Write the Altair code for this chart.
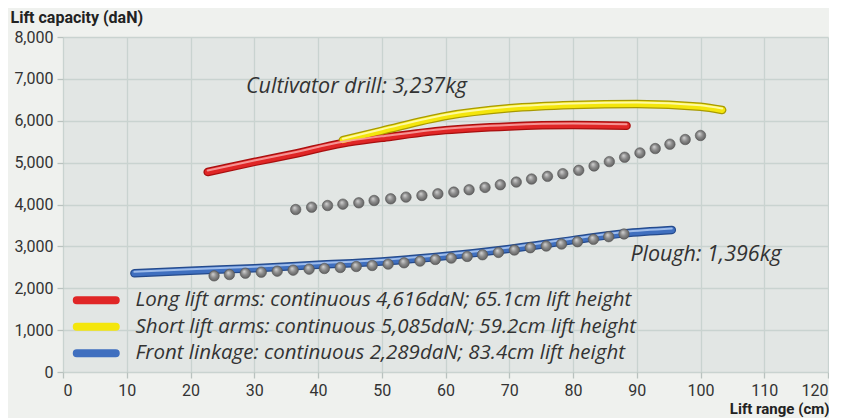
import altair as alt
import pandas as pd

# ---- data ----
series_names = [
    "Long lift arms: continuous 4,616daN; 65.1cm lift height",
    "Short lift arms: continuous 5,085daN; 59.2cm lift height",
    "Front linkage: continuous 2,289daN; 83.4cm lift height",
]
series_colors = ["#e02626", "#f4e60c", "#3f6fbf"]
series_dark = ["#a80f0f", "#a89a00", "#244a8c"]
series_light = ["#f7a0a0", "#fffcb0", "#a8c4ee"]

long_x = [22.7, 30, 36, 43.9, 50, 60, 70, 80, 88.4]
long_y = [4776, 5016, 5200, 5464, 5592, 5776, 5864, 5896, 5880]

short_x = [43.9, 50, 60, 70, 80, 90, 100, 103.4]
short_y = [5536, 5760, 6110, 6296, 6376, 6400, 6336, 6256]

front_x = [11.2, 20, 30, 40, 50, 60, 70, 80, 88, 95.5]
front_y = [2356, 2420, 2480, 2560, 2640, 2770, 2940, 3150, 3310, 3391]

cult_x = [36.5, 39.0, 41.5, 43.9, 46.4, 48.8, 51.4, 53.8, 56.3, 58.8, 61.3, 63.7,
          66.2, 68.6, 71.1, 73.5, 76.0, 78.4, 80.9, 83.3, 85.7, 88.1, 90.5, 92.9,
          95.2, 97.6, 100.0]
cult_y = [3880, 3936, 3976, 4008, 4040, 4096, 4136, 4176, 4216, 4256, 4296, 4352,
          4408, 4472, 4536, 4608, 4672, 4736, 4816, 4920, 5024, 5128, 5232, 5336,
          5440, 5552, 5648]

plough_x = [23.7, 26.1, 28.6, 31.1, 33.6, 36.1, 38.6, 41.0, 43.5, 46.0, 48.5, 51.0,
            53.5, 56.0, 58.4, 60.9, 63.4, 65.8, 68.3, 70.8, 73.3, 75.8, 78.2, 80.7,
            83.2, 85.6, 88.0]
plough_y = [2296, 2328, 2360, 2384, 2408, 2432, 2456, 2472, 2496, 2520, 2544, 2576,
            2608, 2648, 2688, 2720, 2760, 2800, 2856, 2912, 2968, 3008, 3056, 3112,
            3168, 3232, 3296]

note_text = ["Cultivator drill: 3,237kg", "Plough: 1,396kg"]
note_x = [28.7, 89.0]
note_y = [6806, 2794]

x_ticks = list(range(0, 121, 10))
y_ticks = list(range(0, 8001, 1000))

# ---- tables ----
lines_df = pd.concat([
    pd.DataFrame({"x": xs, "y": ys, "series": name, "order": range(len(xs))})
    for name, xs, ys in zip(series_names, [long_x, short_x, front_x], [long_y, short_y, front_y])
])
dots_df = pd.concat([
    pd.DataFrame({"x": cult_x, "y": cult_y, "set": "cultivator"}),
    pd.DataFrame({"x": plough_x, "y": plough_y, "set": "plough"}),
])
notes_df = pd.DataFrame({"x": note_x, "y": note_y, "text": note_text})

FONT = "Roboto"
IFONT = "Open Sans"
PW, PH = 765, 335

xscale = alt.Scale(domain=[0, 120], nice=False)
yscale = alt.Scale(domain=[0, 8000], nice=False)

X = alt.X("x:Q", scale=xscale,
          axis=alt.Axis(values=x_ticks, title="Lift range (cm)", titleAngle=0,
                        labelFlush=True,
                        titleAlign="right", titleAnchor="end", titleX=PW + 1, titleY=41,
                        titleBaseline="alphabetic", titleFontSize=15))
Y = alt.Y("y:Q", scale=yscale,
          axis=alt.Axis(values=y_ticks, format=",.0f", title="Lift capacity (daN)",
                        titleAngle=0, titleAlign="left", titleX=-53, titleY=-15,
                        titleBaseline="alphabetic", titleFontSize=16))

pill = "M-3,-0.3077H3A0.3077,0.3077 0 0 1 3,0.3077H-3A0.3077,0.3077 0 0 1 -3,-0.3077Z"

layers = []
for name, dark in zip(series_names, series_dark):
    layers.append(
        alt.Chart(lines_df).transform_filter(alt.datum.series == name)
        .mark_line(color=dark, strokeWidth=8.5, strokeCap="round", interpolate="monotone")
        .encode(x=X, y=Y, order="order:Q")
    )
layers.append(
    alt.Chart(lines_df).mark_line(strokeWidth=6, strokeCap="round", interpolate="monotone")
    .encode(
        x=X, y=Y, order="order:Q",
        color=alt.Color("series:N",
                        scale=alt.Scale(domain=series_names, range=series_colors),
                        legend=alt.Legend(title=None, orient="none", legendX=23, legendY=253,
                                          symbolType=pill, symbolSize=169,
                                          symbolStrokeWidth=4, symbolFillColor="transparent",
                                          labelFont=IFONT, labelFontSize=20.5,
                                          labelFontStyle="italic", labelColor="#333333",
                                          labelOffset=29, rowPadding=5.5, padding=0,
                                          labelLimit=700)),
    )
)
for name, light in zip(series_names, series_light):
    layers.append(
        alt.Chart(lines_df).transform_filter(alt.datum.series == name)
        .mark_line(color=light, strokeWidth=2, strokeCap="round", interpolate="monotone",
                   yOffset=-1.5, opacity=0.9)
        .encode(x=X, y=Y, order="order:Q")
    )

ball = {
    "gradient": "radial",
    "x1": 0.38, "y1": 0.32, "r1": 0.0,
    "x2": 0.5, "y2": 0.5, "r2": 0.55,
    "stops": [
        {"offset": 0.0, "color": "#d6d6d6"},
        {"offset": 0.5, "color": "#8c8c8c"},
        {"offset": 1.0, "color": "#5a5a5a"},
    ],
}
layers.append(
    alt.Chart(dots_df).mark_circle(size=110, fill=ball, opacity=1, stroke="#555555",
                                   strokeWidth=0.6)
    .encode(x=X, y=Y)
)
layers.append(
    alt.Chart(notes_df).mark_text(align="left", baseline="middle", font=IFONT, fontSize=21.5,
                                  fontStyle="italic", color="#333333")
    .encode(x=X, y=Y, text="text:N")
)

chart = alt.layer(*layers).properties(
    width=PW, height=PH,
    padding={"left": 55, "top": 29, "right": 1, "bottom": 46},
    autosize=alt.AutoSizeParams(type="none"),
    background="#eff1ee",
).configure_view(
    fill="#e2e6e4", stroke=None
).configure_axis(
    grid=True, gridColor="#c9d3d0", gridWidth=1.3, domain=False,
    tickColor="#b9c2bf", tickSize=6, tickWidth=1.3,
    labelFont=FONT, labelFontSize=16, labelColor="#333333", labelPadding=4,
    titleFont=FONT, titleFontWeight="bold", titleColor="#222222",
).configure_axisX(labelPadding=4)

chart.save("out.html", embed_options={"renderer": "svg", "actions": False})
